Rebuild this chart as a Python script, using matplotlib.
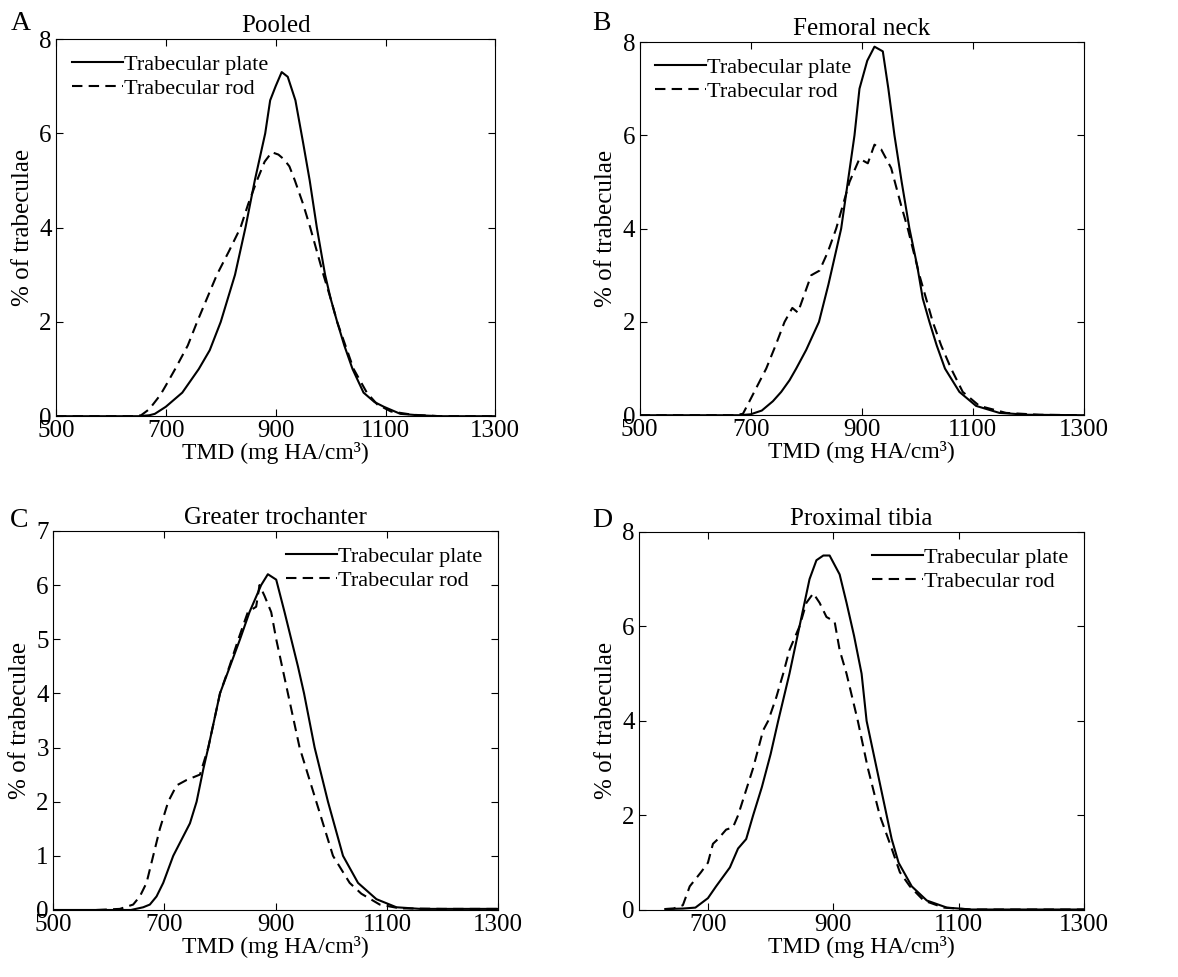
import matplotlib
matplotlib.use("Agg")
import matplotlib.pyplot as plt

plt.rcParams['font.family'] = ['Liberation Serif', 'DejaVu Serif']
plt.rcParams['font.size'] = 16

# ===================== data =====================
# A: Pooled
a_plate_x = [500, 650, 670, 680, 700, 730, 760, 780, 800, 826, 845, 862, 881, 890, 900, 911,
             922, 936, 950, 962, 975, 990, 1000, 1012, 1025, 1040, 1060, 1080, 1097, 1127, 1160, 1200, 1300]
a_plate_y = [0, 0, 0.02, 0.05, 0.2, 0.5, 1.0, 1.4, 2.0, 3.0, 4.0, 5.0, 6.0, 6.7, 7.0, 7.3,
             7.2, 6.7, 5.8, 5.0, 4.0, 3.0, 2.5, 2.0, 1.5, 1.0, 0.5, 0.3, 0.2, 0.05, 0.02, 0, 0]
a_rod_x = [500, 640, 655, 670, 690, 700, 717, 740, 757, 775, 793, 815, 836, 850, 866, 880, 893,
           905, 915, 925, 935, 950, 963, 975, 987, 1000, 1012, 1027, 1042, 1066, 1085, 1110, 1150, 1200, 1300]
a_rod_y = [0, 0, 0.02, 0.15, 0.45, 0.65, 1.0, 1.5, 2.0, 2.5, 3.0, 3.5, 4.0, 4.5, 5.0, 5.4, 5.6,
           5.55, 5.45, 5.3, 5.0, 4.5, 4.0, 3.5, 3.0, 2.5, 2.0, 1.5, 1.0, 0.5, 0.25, 0.1, 0.03, 0, 0]

# B: Femoral neck
b_plate_x = [500, 680, 700, 720, 740, 755, 770, 782, 800, 823, 840, 863, 875, 887, 896, 910, 923,
             938, 948, 959, 972, 986, 1000, 1010, 1022, 1035, 1050, 1076, 1106, 1148, 1200, 1300]
b_plate_y = [0, 0, 0.02, 0.1, 0.3, 0.5, 0.75, 1.0, 1.4, 2.0, 2.8, 4.0, 5.0, 6.0, 7.0, 7.6, 7.9,
             7.8, 7.0, 6.0, 5.0, 4.0, 3.2, 2.5, 2.0, 1.5, 1.0, 0.5, 0.2, 0.05, 0.01, 0]
b_rod_x = [500, 670, 686, 700, 715, 728, 745, 761, 775, 785, 809, 824, 839, 854, 878, 896, 911,
           923, 935, 953, 971, 983, 1004, 1028, 1043, 1061, 1082, 1112, 1160, 1220, 1300]
b_rod_y = [0, 0, 0.03, 0.35, 0.7, 1.0, 1.5, 2.0, 2.3, 2.2, 3.0, 3.1, 3.5, 4.0, 5.0, 5.5, 5.4,
           5.8, 5.7, 5.3, 4.5, 4.0, 3.0, 2.0, 1.5, 1.0, 0.5, 0.2, 0.05, 0.01, 0]

# C: Greater trochanter
c_plate_x = [500, 640, 662, 674, 686, 698, 716, 746, 758, 770, 779, 800, 818, 836, 853, 874, 886,
             901, 916, 928, 940, 951, 970, 994, 1021, 1048, 1081, 1117, 1160, 1300]
c_plate_y = [0, 0, 0.05, 0.1, 0.25, 0.5, 1.0, 1.6, 2.0, 2.6, 3.0, 4.0, 4.5, 5.0, 5.5, 6.0, 6.2,
             6.1, 5.5, 5.0, 4.5, 4.0, 3.0, 2.0, 1.0, 0.5, 0.2, 0.05, 0.02, 0.02]
c_rod_x = [578, 620, 644, 656, 668, 680, 692, 707, 722, 740, 764, 779, 800, 817, 833, 850, 865,
           871, 880, 892, 901, 922, 943, 973, 1003, 1033, 1054, 1087, 1123, 1200, 1300]
c_rod_y = [0, 0.02, 0.1, 0.25, 0.5, 1.0, 1.5, 2.0, 2.3, 2.4, 2.5, 3.0, 4.0, 4.5, 5.0, 5.5, 5.6,
           6.0, 5.8, 5.5, 5.0, 4.0, 3.0, 2.0, 1.0, 0.5, 0.3, 0.1, 0.03, 0.02, 0.02]

# D: Proximal tibia
d_plate_x = [632, 660, 680, 700, 713, 735, 748, 761, 772, 786, 800, 812, 830, 846, 862, 873, 884,
             894, 910, 921, 933, 945, 953, 961, 977, 993, 1004, 1025, 1049, 1081, 1120, 1300]
d_plate_y = [0.02, 0.03, 0.05, 0.25, 0.5, 0.9, 1.3, 1.5, 2.0, 2.6, 3.3, 4.0, 5.0, 6.0, 7.0, 7.4, 7.5,
             7.5, 7.1, 6.5, 5.8, 5.0, 4.0, 3.5, 2.5, 1.5, 1.0, 0.5, 0.2, 0.05, 0.01, 0.01]
d_rod_x = [632, 645, 660, 671, 689, 700, 708, 716, 729, 740, 748, 772, 788, 796, 809, 820, 830,
           846, 857, 868, 878, 889, 902, 910, 921, 939, 955, 974, 993, 1006, 1022, 1044, 1076, 1120, 1300]
d_rod_y = [0.02, 0.03, 0.1, 0.5, 0.8, 1.0, 1.4, 1.5, 1.7, 1.75, 2.0, 3.0, 3.8, 4.0, 4.5, 5.0, 5.5,
           6.0, 6.5, 6.7, 6.5, 6.2, 6.1, 5.5, 5.0, 4.0, 3.0, 2.0, 1.3, 0.8, 0.5, 0.2, 0.05, 0.01, 0.01]

titles = ["Pooled", "Femoral neck", "Greater trochanter", "Proximal tibia"]
letters = ["A", "B", "C", "D"]
xlims = [(500, 1300), (500, 1300), (500, 1300), (590, 1300)]
ylims = [(0, 8), (0, 8), (0, 7), (0, 8)]
yticks = [[0, 2, 4, 6, 8], [0, 2, 4, 6, 8], list(range(8)), [0, 2, 4, 6, 8]]
xticks = [[500, 700, 900, 1100, 1300]] * 3 + [[700, 900, 1100, 1300]]
legend_loc = ["upper left", "upper left", "upper right", "upper right"]
plates = [(a_plate_x, a_plate_y), (b_plate_x, b_plate_y), (c_plate_x, c_plate_y), (d_plate_x, d_plate_y)]
rods = [(a_rod_x, a_rod_y), (b_rod_x, b_rod_y), (c_rod_x, c_rod_y), (d_rod_x, d_rod_y)]

# axes boxes in figure fractions
positions = [
    [0.0475, 0.574, 0.373, 0.386],
    [0.543, 0.575, 0.377, 0.382],
    [0.045, 0.0686, 0.378, 0.388],
    [0.5424, 0.0686, 0.378, 0.387],
]
letter_xy = [(0.009, 0.969), (0.503, 0.969), (0.008, 0.461), (0.503, 0.461)]

fig = plt.figure(figsize=(11.78, 9.77), dpi=100)

for i in range(4):
    ax = fig.add_axes(positions[i])
    ax.plot(plates[i][0], plates[i][1], color="black", lw=1.5, label="Trabecular plate")
    ax.plot(rods[i][0], rods[i][1], color="black", lw=1.5, ls=(0, (5, 3)), label="Trabecular rod")
    ax.set_xlim(*xlims[i])
    ax.set_ylim(*ylims[i])
    ax.set_xticks(xticks[i])
    ax.set_yticks(yticks[i])
    ax.tick_params(direction="in", top=True, right=True, length=5, labelsize=18, pad=3)
    ax.set_xlabel("TMD (mg HA/cm³)", fontsize=17, labelpad=0)
    ax.set_ylabel("% of trabeculae", fontsize=18, labelpad=4)
    ax.set_title(titles[i], fontsize=18, pad=5)
    ax.legend(loc=legend_loc[i], frameon=False, fontsize=16, handlelength=2.3,
              handletextpad=0.05, labelspacing=0.15, borderaxespad=0.3)
    fig.text(letter_xy[i][0], letter_xy[i][1], letters[i], fontsize=20)

fig.savefig("out.png", dpi=100)
